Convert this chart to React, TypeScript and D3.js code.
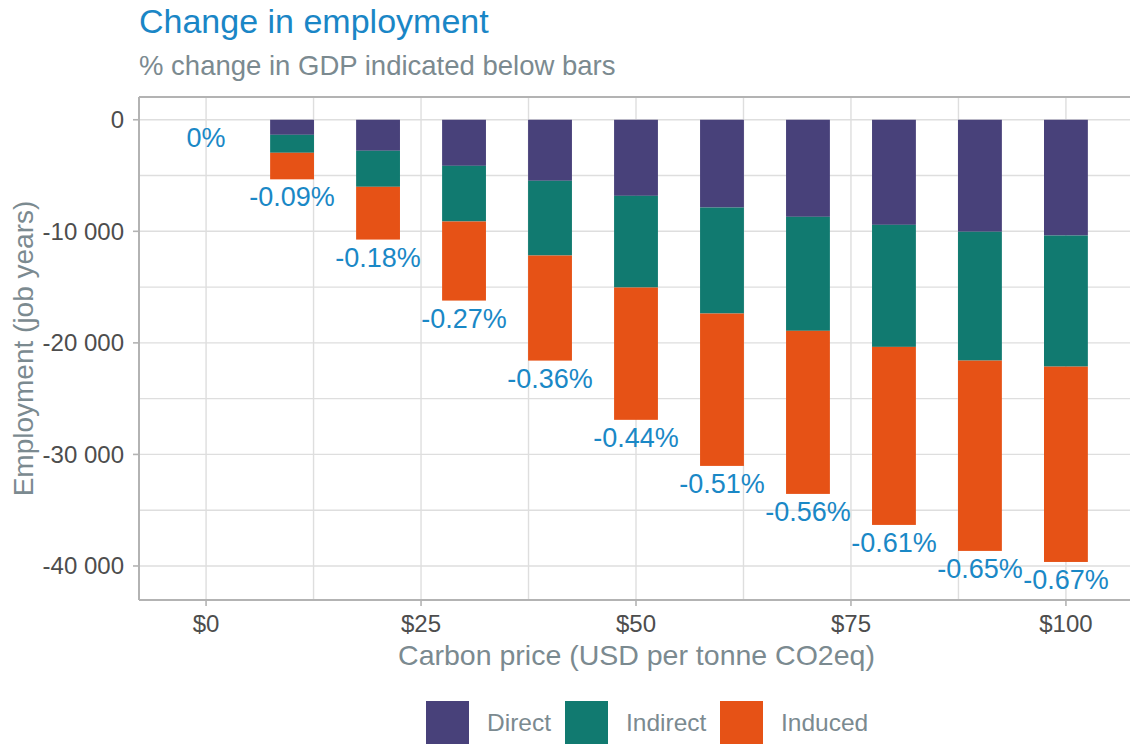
import React from "react";
import * as d3 from "d3";

const carbonPrices = [0, 10, 20, 30, 40, 50, 60, 70, 80, 90, 100];
const directJobs = [0, -1350, -2780, -4130, -5470, -6820, -7870, -8700, -9420, -10040, -10380];
const indirectJobs = [0, -1610, -3230, -4990, -6700, -8220, -9500, -10220, -10940, -11550, -11750];
const inducedJobs = [0, -2380, -4730, -7090, -9420, -11860, -13660, -14620, -15960, -17060, -17510];
const gdpLabels = ["0%", "-0.09%", "-0.18%", "-0.27%", "-0.36%", "-0.44%", "-0.51%", "-0.56%", "-0.61%", "-0.65%", "-0.67%"];
const seriesNames = ["Direct", "Indirect", "Induced"];
const seriesColors = ["#48417a", "#117a70", "#e65216"];
const xTickValues = [0, 25, 50, 75, 100];
const yTickValues = [0, -10000, -20000, -30000, -40000];

const W = 1130;
const H = 746;
const panel = { left: 139, right: 1133, top: 97, bottom: 600 };
const FONT = "'Liberation Sans', Arial, sans-serif";

export default function App() {
  const x = d3.scaleLinear().domain([-7.8, 107.8]).range([panel.left, panel.right]);
  const y = d3.scaleLinear().domain([2040, -43050]).range([panel.top, panel.bottom]);
  const barW = x(5.1) - x(0);

  const rows = carbonPrices.map((p, i) => ({
    price: p,
    Direct: directJobs[i],
    Indirect: indirectJobs[i],
    Induced: inducedJobs[i],
  }));
  const stack = d3
    .stack<any>()
    .keys(seriesNames)
    .offset(d3.stackOffsetDiverging);
  const layers = stack(rows);

  const fmt = (v: number) => d3.format(",")(v).replace(/,/g, " ").replace("−", "-");

  const xGrid = d3.range(0, 101, 12.5);
  const yGrid = d3.range(0, -40001, -5000);
  const gridColor = "#dedede";
  const axisColor = "#b3b3b3";

  const totals = carbonPrices.map((_, i) => directJobs[i] + indirectJobs[i] + inducedJobs[i]);

  return (
    <svg
      width={W}
      height={H}
      style={{ position: "absolute", left: 0, top: 0, background: "#fff" }}
      fontFamily={FONT}
    >
      <text x={139} y={33} fontSize={34} fill="#1a86c6">
        Change in employment
      </text>
      <text x={139} y={75} fontSize={27.5} fill="#7b8a90">
        % change in GDP indicated below bars
      </text>

      {/* grid */}
      {xGrid.map((g) => (
        <line key={"xg" + g} x1={x(g)} x2={x(g)} y1={panel.top} y2={panel.bottom} stroke={gridColor} strokeWidth={1.4} />
      ))}
      {yGrid.map((g) => (
        <line key={"yg" + g} x1={panel.left} x2={panel.right} y1={y(g)} y2={y(g)} stroke={gridColor} strokeWidth={1.4} />
      ))}

      {/* bars */}
      {layers.map((layer, li) => (
        <g key={layer.key} fill={seriesColors[li]}>
          {layer.map((d, i) => {
            const y0 = y(Math.max(d[0], d[1]));
            const y1 = y(Math.min(d[0], d[1]));
            if (y1 - y0 <= 0) return null;
            return (
              <rect
                key={i}
                x={x(rows[i].price) - barW / 2}
                width={barW}
                y={y0}
                height={y1 - y0}
              />
            );
          })}
        </g>
      ))}

      {/* panel border */}
      <line x1={panel.left} x2={panel.right} y1={panel.top} y2={panel.top} stroke={axisColor} strokeWidth={2} />
      <line x1={panel.left} x2={panel.right} y1={panel.bottom} y2={panel.bottom} stroke={axisColor} strokeWidth={2} />
      <line x1={panel.left} x2={panel.left} y1={panel.top} y2={panel.bottom} stroke={axisColor} strokeWidth={2} />

      {/* labels below bars */}
      {gdpLabels.map((lab, i) => (
        <text
          key={"lab" + i}
          x={x(carbonPrices[i])}
          y={y(totals[i]) + 27}
          textAnchor="middle"
          fontSize={27}
          fill="#1a88c6"
        >
          {lab}
        </text>
      ))}

      {/* x axis */}
      {xTickValues.map((t) => (
        <g key={"xt" + t}>
          <line x1={x(t)} x2={x(t)} y1={panel.bottom} y2={panel.bottom + 6} stroke={axisColor} strokeWidth={1.6} />
          <text x={x(t)} y={632} textAnchor="middle" fontSize={24} fill="#4d4d4d">
            {"$" + t}
          </text>
        </g>
      ))}
      <text x={(panel.left + 1130) / 2 + 2} y={665} textAnchor="middle" fontSize={28.5} fill="#7b8a90">
        Carbon price (USD per tonne CO2eq)
      </text>

      {/* y axis */}
      {yTickValues.map((t) => (
        <g key={"yt" + t}>
          <line x1={panel.left - 6} x2={panel.left} y1={y(t)} y2={y(t)} stroke={axisColor} strokeWidth={1.6} />
          <text x={124} y={y(t)} dy="0.35em" textAnchor="end" fontSize={24} fill="#4d4d4d">
            {fmt(t)}
          </text>
        </g>
      ))}
      <text
        transform={`translate(33, ${(panel.top + panel.bottom) / 2}) rotate(-90)`}
        textAnchor="middle"
        fontSize={28}
        fill="#7b8a90"
      >
        Employment (job years)
      </text>

      {/* legend */}
      {seriesNames.map((s, i) => {
        const sx = [426, 565, 720][i];
        return (
          <g key={"lg" + s}>
            <rect x={sx} y={701} width={43} height={43} fill={seriesColors[i]} />
            <text x={sx + 61} y={731} fontSize={24.5} fill="#7b8a90">
              {s}
            </text>
          </g>
        );
      })}
    </svg>
  );
}
